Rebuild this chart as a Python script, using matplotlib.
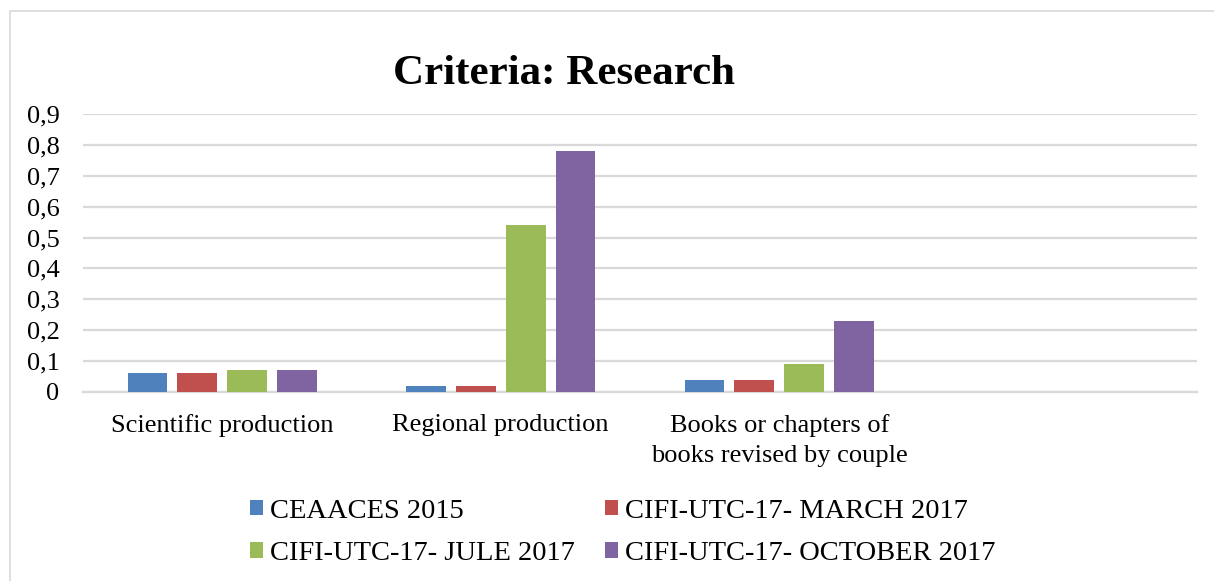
import matplotlib.pyplot as plt
import numpy as np
from matplotlib.patches import Rectangle, Patch

# Dados
categorias = ['Scientific production', 'Regional production',
              'Books or chapters of\nbooks revised by couple', '']
series = ['CEAACES 2015', 'CIFI-UTC-17- MARCH 2017',
          'CIFI-UTC-17- JULE 2017', 'CIFI-UTC-17- OCTOBER 2017']
ceaaces_2015 = [0.06, 0.02, 0.04, np.nan]
march_2017 = [0.06, 0.02, 0.04, np.nan]
jule_2017 = [0.07, 0.54, 0.09, np.nan]
october_2017 = [0.07, 0.78, 0.23, np.nan]
cores = ['#4F81BD', '#C0504D', '#9BBB59', '#8064A2']
yticks = np.arange(0, 1.0, 0.1)

plt.rcParams['font.family'] = ['Liberation Serif', 'DejaVu Serif']

fig = plt.figure(figsize=(12.14, 5.81), dpi=100)
# moldura do gráfico (só topo e esquerda visíveis)
fig.patches.append(Rectangle((10/1214, -0.1), 1.2, 1 - 11/581 + 0.1,
                             transform=fig.transFigure, fill=False,
                             edgecolor='#D9D9D9', linewidth=1.2))

ax = fig.add_axes([83/1214, 1 - 392/581, (1197 - 83)/1214, (392 - 114)/581])

x = np.arange(len(categorias))
largura = 0.143
passo = 0.179
valores = [ceaaces_2015, march_2017, jule_2017, october_2017]
for i, (nome, vals) in enumerate(zip(series, valores)):
    ax.bar(x + (i - 1.5)*passo, vals, width=largura, color=cores[i], label=nome, zorder=3)

ax.set_xlim(-0.5, len(categorias) - 0.5)
ax.set_ylim(0, 0.9)
ax.set_yticks(yticks)
ax.set_yticklabels(['0'] + [f'{v:.1f}'.replace('.', ',') for v in yticks[1:]], fontsize=19)
ax.set_xticks(x)
ax.set_xticklabels(categorias, fontsize=19, linespacing=1.45)
ax.tick_params(axis='both', length=0)
ax.tick_params(axis='y', pad=17)
ax.tick_params(axis='x', pad=16)
ax.grid(axis='y', color='#D9D9D9', linewidth=1.6, zorder=0)
for s in ['top', 'right', 'left']:
    ax.spines[s].set_visible(False)
ax.spines['bottom'].set_color('#D9D9D9')
ax.spines['bottom'].set_linewidth(1.6)

fig.text(564/1214, 1 - 74/581, 'Criteria: Research', ha='center', va='center',
         fontsize=31, fontweight='bold')

# ordem por linhas, como no original
ordem = [0, 2, 1, 3]
handles = [Patch(facecolor=cores[i]) for i in ordem]
labels = [series[i] for i in ordem]
fig.legend(handles, labels, loc='center', bbox_to_anchor=(623/1214, 1 - 532.5/581),
           ncol=2, frameon=False, fontsize=20.5, handlelength=0.45, handleheight=0.45,
           handletextpad=0.25, columnspacing=1.05, labelspacing=0.6)

fig.savefig('out.png', dpi=100)
